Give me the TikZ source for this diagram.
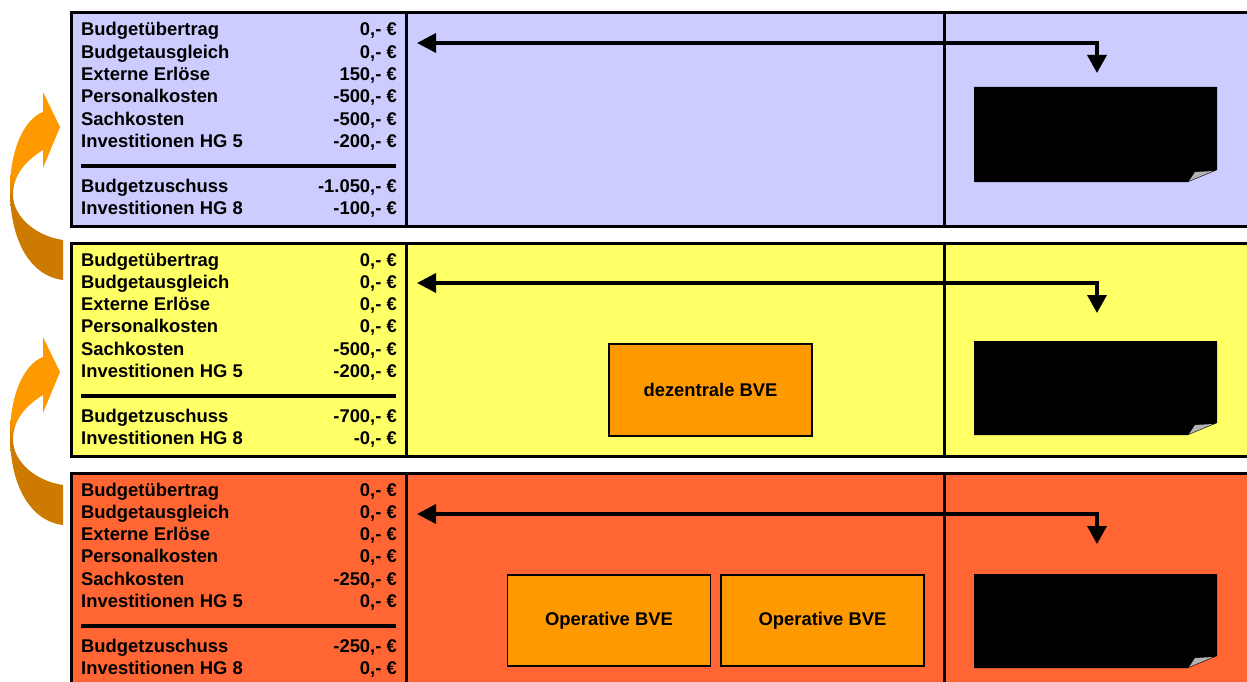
\documentclass[tikz,border=0pt]{standalone}
\usepackage{fontspec}
\setmainfont{Liberation Sans}
\usetikzlibrary{arrows.meta}

\definecolor{bandblue}{HTML}{CCCCFF}
\definecolor{bandyellow}{HTML}{FFFF66}
\definecolor{bandred}{HTML}{FF6633}
\definecolor{bveorange}{HTML}{FF9900}
\definecolor{liftlight}{HTML}{FF9900}
\definecolor{liftdark}{HTML}{CC7A00}

% two-tone shading of the curved transfer arrows (dark lower half)
\pgfdeclareverticalshading{liftshade}{100bp}{color(0bp)=(liftdark); color(47bp)=(liftdark); color(53bp)=(liftlight); color(100bp)=(liftlight)}

\tikzset{
  frame/.style={draw=black, line width=3pt},
  divider/.style={draw=black, line width=3pt},
  rule/.style={draw=black, line width=4pt},
  lbl/.style={anchor=base west, inner sep=0pt, font=\bfseries\fontsize{18.4}{22}\selectfont},
  val/.style={anchor=base east, inner sep=0pt, font=\bfseries\fontsize{18.4}{22}\selectfont},
  bve/.style={draw=black, line width=1.2pt, fill=bveorange, inner sep=0pt,
              minimum width=203pt, minimum height=91pt,
              font=\bfseries\fontsize{18.4}{22}\selectfont},
  flow/.style={line width=3.5pt, line join=miter,
               {Triangle[length=19pt,width=19pt]}-{Triangle[length=18pt,width=19pt]}},
  sheet/.style={fill=black},
  curl/.style={fill=gray!60},
}

% row captions of one budget table; #1 = tag, #2 = vertical offset
\newcommand\rowlabels[2]{%
  \foreach \n/\yy/\t in {1/36/Budgetübertrag, 2/58.3/Budgetausgleich,
      3/80.6/Externe Erlöse, 4/102.9/Personalkosten, 5/125.2/Sachkosten,
      6/147.5/Investitionen HG 5, 7/192.1/Budgetzuschuss, 8/214.4/Investitionen HG 8}
    {\node[lbl] (#1-l\n) at (81,#2+\yy) {\t};}
  \draw[rule] (81,165.5+#2) -- (396,165.5+#2);
}
% amounts, right aligned on the caption baselines
\newcommand\rowvalues[2]{%
  \foreach \v [count=\n] in {#2}
    {\node[val] (#1-v\n) at (397,0 |- #1-l\n.base) {\v};}
}
% black sheet with a turned-up corner; #1 = top, #2 = bottom
\newcommand\blacksheet[2]{%
  \fill[sheet] (974,#1) -- (1217,#1) -- (1217,#2-12) -- (1188,#2) -- (974,#2) -- cycle;
  \fill[curl] (1189,#2-1) -- (1195,#2-10) -- (1213,#2-11) -- cycle;
}
% curved block arrow on the left margin; #1 = vertical shift
\newcommand\liftarrow[1]{%
  \shade[shading=liftshade, shift={(0,#1)}]
    (43,92) -- (60,127) -- (43,168) -- (43,150)
    .. controls (22,163) and (13,178) .. (13,195)
    .. controls (13,216) and (35,236) .. (63,240)
    -- (63,280)
    .. controls (30,276) and (10,240) .. (10,190)
    .. controls (10,150) and (24,119) .. (43,112) -- cycle;
}

\begin{document}
\begin{tikzpicture}[x=1pt, y=-1pt]
  \useasboundingbox (0,0) rectangle (1247,682);
  \clip (0,0) rectangle (1247,682);

  % band frames
  \filldraw[frame, fill=bandblue]   (71,13)  rectangle (1265,226.7);
  \filldraw[frame, fill=bandyellow] (71,243) rectangle (1265,456.3);
  \filldraw[frame, fill=bandred]    (71,473) rectangle (1265,700);
  \foreach \top/\bot in {13/226.7, 243/456.3, 473/700}{
    \draw[divider] (406,\top) -- (406,\bot);
    \draw[divider] (944,\top) -- (944,\bot);
  }

  % budget tables
  \rowlabels{a}{0}
  \rowvalues{a}{{0,- €},{0,- €},{150,- €},{-500,- €},{-500,- €},{-200,- €},{-1.050,- €},{-100,- €}}
  \rowlabels{b}{230}
  \rowvalues{b}{{0,- €},{0,- €},{0,- €},{0,- €},{-500,- €},{-200,- €},{-700,- €},{-0,- €}}
  \rowlabels{c}{460}
  \rowvalues{c}{{0,- €},{0,- €},{0,- €},{0,- €},{-250,- €},{0,- €},{-250,- €},{0,- €}}

  % organisational units
  \node[bve, minimum height=92pt] (dez) at (710.5,390) {dezentrale BVE};
  \node[bve] (op1) at (609,620.5) {Operative BVE};
  \node[bve] (op2) at (822.5,620.5) {Operative BVE};

  % sheets in the right column
  \blacksheet{87}{182}
  \blacksheet{341}{435}
  \blacksheet{574}{668}

  % two-way flows between table and sheet
  \coordinate (a-in)  at (417,43);
  \coordinate (a-out) at (1097,73);
  \coordinate (b-in)  at (417,283);
  \coordinate (b-out) at (1097,313);
  \coordinate (c-in)  at (417,514);
  \coordinate (c-out) at (1097,544);
  \draw[flow] (a-in) -| (a-out);
  \draw[flow] (b-in) -| (b-out);
  \draw[flow] (c-in) -| (c-out);

  % transfers upwards between the levels
  \liftarrow{0}
  \liftarrow{245}
\end{tikzpicture}
\end{document}
